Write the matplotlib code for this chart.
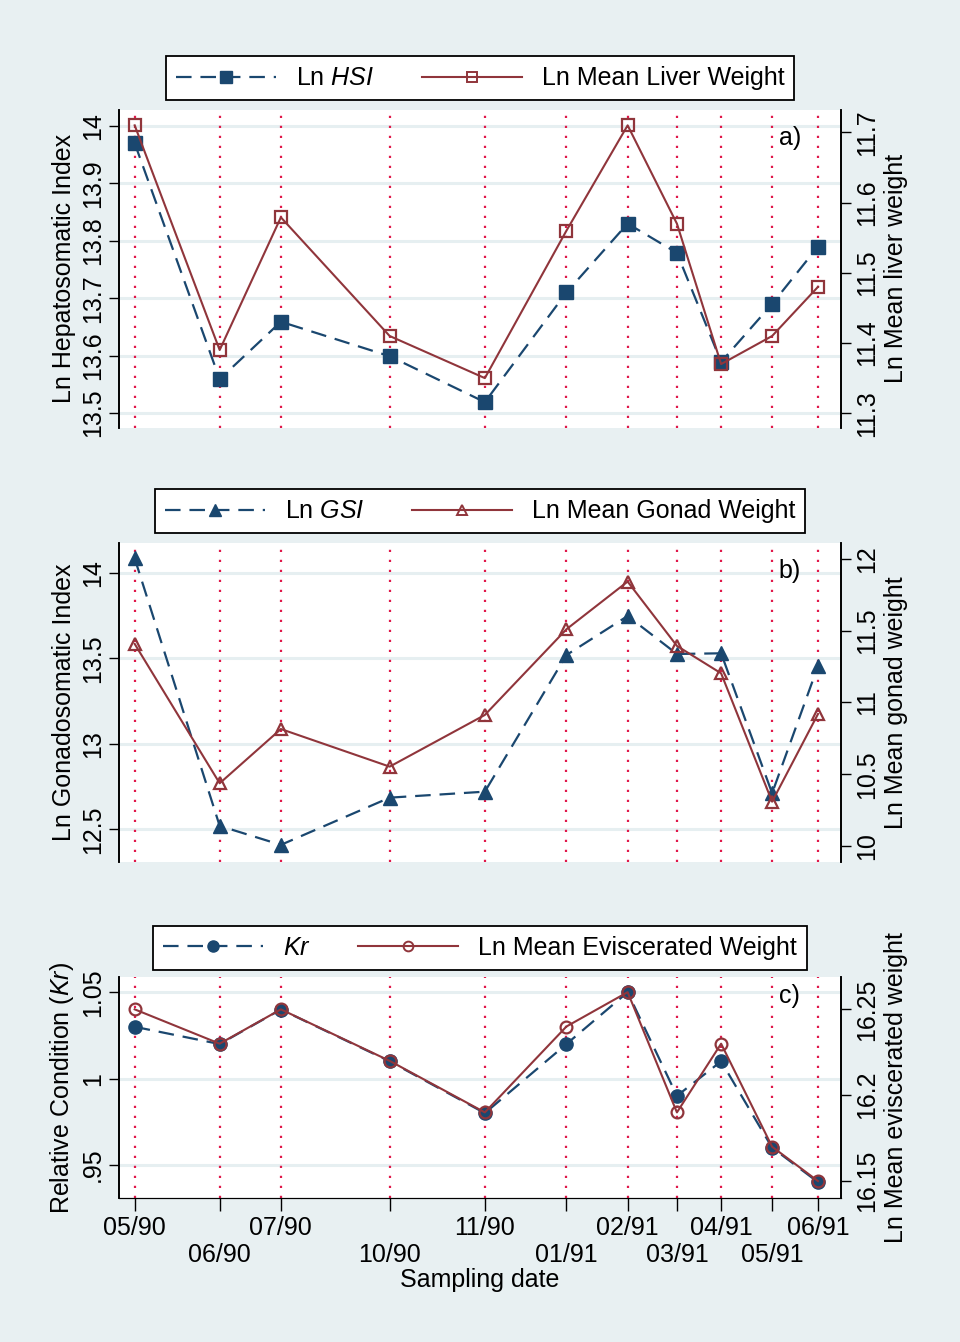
import numpy as np
import matplotlib.pyplot as plt
from matplotlib.lines import Line2D

plt.rcParams['font.family'] = ['Liberation Sans', 'DejaVu Sans']
plt.rcParams['mathtext.fontset'] = 'custom'
plt.rcParams['mathtext.rm'] = 'Liberation Sans'
plt.rcParams['mathtext.it'] = 'Liberation Sans:italic'

# dias desde a primeira amostragem
dias = [0, 50, 86, 150, 206, 254, 290, 319, 345, 375, 402]
datas = ['05/90', '06/90', '07/90', '10/90', '11/90', '01/91',
         '02/91', '03/91', '04/91', '05/91', '06/91']

# a) figado
ln_hsi = [13.970, 13.559, 13.659, 13.599, 13.519, 13.710,
          13.830, 13.779, 13.589, 13.690, 13.790]
ln_figado = [11.710, 11.390, 11.579, 11.410, 11.350, 11.560,
             11.710, 11.570, 11.370, 11.410, 11.480]

# b) gonadas
ln_gsi = [14.084, 12.520, 12.409, 12.685, 12.720, 13.519,
          13.747, 13.525, 13.529, 12.711, 13.455]
ln_gonada = [11.408, 10.437, 10.815, 10.553, 10.913, 11.510,
             11.842, 11.394, 11.203, 10.309, 10.920]

# c) condicao
kr = [1.030, 1.020, 1.040, 1.010, 0.980, 1.020,
      1.050, 0.990, 1.010, 0.960, 0.940]
ln_eviscerado = [16.250, 16.230, 16.250, 16.220, 16.190, 16.240,
                 16.260, 16.190, 16.230, 16.170, 16.150]

navy = '#1a476f'
maroon = '#90353b'
fundo = '#e8f0f2'
grelha = '#e6eff1'
vermelho = '#e0184a'
fs = 18

fig = plt.figure(figsize=(9.6, 13.42), dpi=100, facecolor=fundo)


def painel(pos, y1, y2, lim1, lim2, t1, t2, tl1, tl2, lab1, lab2,
           marc, leg1, leg2, letra, eixo_x=False):
    ax = fig.add_axes(pos)
    ax.set_facecolor('white')
    ax.set_xlim(-9.2, 415.5)
    ax.set_ylim(*lim1)
    for d in dias:
        ax.axvline(d, color=vermelho, ls=(0, (1, 3.5)), lw=1.6, zorder=1)
    ax.set_yticks(t1)
    ax.set_yticklabels(tl1, rotation=90, va='center', fontsize=fs)
    ax.yaxis.grid(True, color=grelha, lw=2.2, zorder=0)
    ax.set_axisbelow(True)
    ax.plot(dias, y1, color=navy, lw=1.6, dashes=(7, 4), marker=marc,
            ms=9.5, mfc=navy, mec=navy, zorder=3)
    ax.set_ylabel(lab1, fontsize=fs, labelpad=4)
    ax.tick_params(axis='y', length=7, width=1, pad=3)

    ax2 = ax.twinx()
    ax2.set_ylim(*lim2)
    ax2.plot(dias, y2, color=maroon, lw=1.5, marker=marc, ms=8.5,
             mfc='none', mec=maroon, mew=1.6, zorder=4)
    ax2.set_yticks(t2)
    ax2.set_yticklabels(tl2, rotation=90, va='center', fontsize=fs)
    ax2.set_ylabel(lab2, fontsize=fs, labelpad=4)
    ax2.tick_params(axis='y', length=7, width=1, pad=3)

    for a in (ax, ax2):
        a.spines['top'].set_visible(False)
        a.spines['bottom'].set_visible(eixo_x)
        a.spines['left'].set_linewidth(1.2)
        a.spines['right'].set_linewidth(1.2)

    if eixo_x:
        # rotulos alternados em duas linhas
        ax.set_xticks(dias[0::2])
        ax.set_xticklabels(datas[0::2], fontsize=fs)
        ax.set_xticks(dias[1::2], minor=True)
        ax.set_xticklabels(datas[1::2], minor=True, fontsize=fs)
        ax.tick_params(axis='x', which='major', length=9, width=1, pad=4)
        ax.tick_params(axis='x', which='minor', length=9, width=1, pad=23)
        ax.set_xlabel('Sampling date', fontsize=fs, labelpad=1)
    else:
        ax.set_xticks([])

    ax.text(0.929, 0.912, letra, transform=ax.transAxes, fontsize=fs,
            ha='center', va='center')

    h1 = Line2D([], [], color=navy, lw=1.6, dashes=(7, 4), marker=marc,
                ms=8, mfc=navy, mec=navy)
    h2 = Line2D([], [], color=maroon, lw=1.5, marker=marc, ms=7,
                mfc='none', mec=maroon, mew=1.4)
    lg = ax2.legend([h1, h2], [leg1, leg2], loc='lower center',
                    bbox_to_anchor=(0.5, 1.03), ncol=2, fontsize=fs,
                    handlelength=4.0, handletextpad=0.8, columnspacing=1.9,
                    frameon=True, fancybox=False, borderpad=0.4,
                    borderaxespad=0, framealpha=1)
    lg.get_frame().set_edgecolor('black')
    lg.get_frame().set_linewidth(1.3)
    return ax, ax2


painel([0.124, 0.6811, 0.752, 0.2370], ln_hsi, ln_figado,
       (13.474, 14.028), (11.279, 11.732),
       [13.5, 13.6, 13.7, 13.8, 13.9, 14.0], [11.3, 11.4, 11.5, 11.6, 11.7],
       ['13.5', '13.6', '13.7', '13.8', '13.9', '14'],
       ['11.3', '11.4', '11.5', '11.6', '11.7'],
       'Ln Hepatosomatic Index', 'Ln Mean liver weight', 's',
       r'Ln $\it{HSI}$', 'Ln Mean Liver Weight', 'a)')

painel([0.124, 0.3577, 0.752, 0.2377], ln_gsi, ln_gonada,
       (12.309, 14.174), (9.889, 12.111),
       [12.5, 13.0, 13.5, 14.0], [10, 10.5, 11, 11.5, 12],
       ['12.5', '13', '13.5', '14'], ['10', '10.5', '11', '11.5', '12'],
       'Ln Gonadosomatic Index', 'Ln Mean gonad weight', '^',
       r'Ln $\it{GSI}$', 'Ln Mean Gonad Weight', 'b)')

painel([0.124, 0.1071, 0.752, 0.1651], kr, ln_eviscerado,
       (0.9307, 1.059), (16.140, 16.269),
       [0.95, 1.0, 1.05], [16.15, 16.2, 16.25],
       ['.95', '1', '1.05'], ['16.15', '16.2', '16.25'],
       r'Relative Condition ($\it{Kr}$)', 'Ln Mean eviscerated weight', 'o',
       r'$\it{Kr}$', 'Ln Mean Eviscerated Weight', 'c)', eixo_x=True)

fig.savefig('out.png', dpi=100, facecolor=fundo)
